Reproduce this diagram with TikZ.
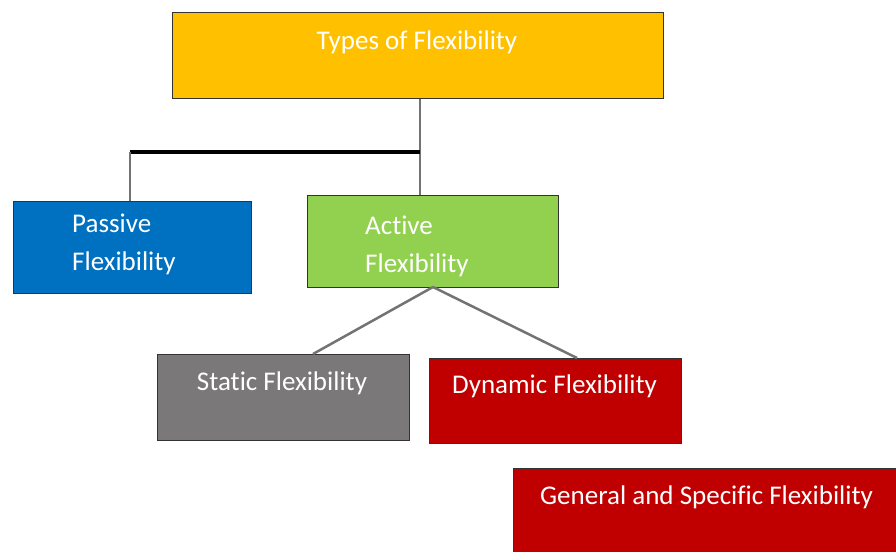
\documentclass[tikz,border=0pt]{standalone}
\usepackage{fontspec}
\setmainfont{Carlito}[Ligatures=NoCommon]
\begin{document}
\begin{tikzpicture}[x=1pt,y=-1pt,
  box/.style={draw=black!80,line width=0.8pt,minimum width=#1,inner sep=0pt},
  lbl/.style={text=white,font=\fontsize{27}{37.5}\selectfont,inner sep=0pt},
  conn/.style={draw=black!55,line width=2.5pt}]
\useasboundingbox (0,0) rectangle (896,551);
\fill[white] (0,0) rectangle (896,551);
% boxes
\node[box=491pt,minimum height=86pt,fill={rgb,255:red,255;green,192;blue,0},anchor=north west] (types) at (172,12) {};
\node[box=238pt,minimum height=92pt,fill={rgb,255:red,0;green,112;blue,192},anchor=north west] (passive) at (13,201) {};
\node[box=251pt,minimum height=92pt,fill={rgb,255:red,146;green,208;blue,80},anchor=north west] (active) at (307,195) {};
\node[box=252pt,minimum height=86pt,fill={rgb,255:red,122;green,120;blue,120},anchor=north west] (static) at (157,354) {};
\node[box=252pt,minimum height=85pt,fill={rgb,255:red,192;green,0;blue,0},anchor=north west] (dynamic) at (429,358) {};
\node[box=390pt,minimum height=86pt,fill={rgb,255:red,192;green,0;blue,0},anchor=north west] (general) at (513,468) {};
% texts
\node[lbl,anchor=base] (ttypes) at (417,49) {Types of Flexibility};
\node[lbl,align=left,anchor=base west] (tpassive) at (72,270) {Passive\\Flexibility};
\node[lbl,align=left,anchor=base west] (tactive) at (365,272) {Active\\Flexibility};
\node[lbl,anchor=base] (tstatic) at (282,390) {Static Flexibility};
\node[lbl,anchor=base west] (tdynamic) at (452,393) {Dynamic Flexibility};
\node[lbl,anchor=base west] (tgeneral) at (540,504) {General and Specific Flexibility};
% connectors
\coordinate (tb) at (types.south -| 420,0);
\coordinate (junc) at (420,152);
\coordinate (lend) at (130,152);
\draw[conn] (tb) -- (active.north -| tb);
\draw[line width=4pt,black] (lend) -- (junc);
\draw[conn] (lend) -- (passive.north -| lend);
\coordinate (ab) at (433,287);
\draw[conn] (ab) -- (static.north -| 313,0);
\draw[conn] (ab) -- (dynamic.north -| 577,0);
\end{tikzpicture}
\end{document}
